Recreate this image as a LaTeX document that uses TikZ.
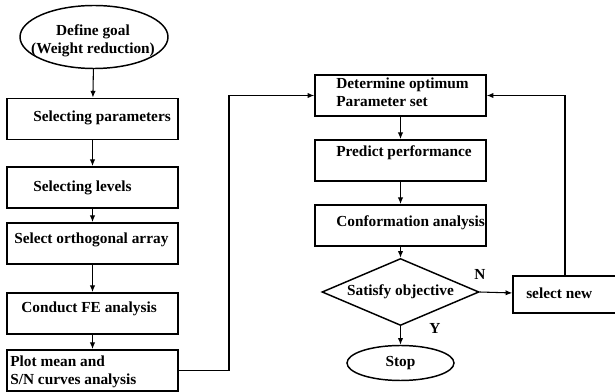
\documentclass[tikz,border=0pt]{standalone}
\usepackage{fontspec}
\setmainfont{Liberation Serif}
\usetikzlibrary{arrows.meta,shapes.geometric}
\tikzset{
    box/.style={draw, line width=1.1pt, minimum width=128.25pt,
                minimum height=31pt, inner sep=0pt},
    txt/.style={font=\bfseries\fontsize{11.5}{13.5}\selectfont,
                inner sep=0pt, anchor=west, align=left},
    term/.style={ellipse, draw, line width=1.1pt, inner sep=0pt},
    flow/.style={-{Latex[length=5pt,width=4pt]}, line width=0.8pt},
    link/.style={line width=0.8pt},
    choice/.style={diamond, draw, line width=1.1pt, inner sep=0pt,
                   aspect=2.34, minimum width=117.75pt, minimum height=50.25pt,
                   font=\bfseries\fontsize{11.5}{13.5}\selectfont},
}

\begin{document}
\begin{tikzpicture}[x=0.75pt,y=-0.75pt]
    \useasboundingbox (0,0) rectangle (615,392);

    % left column
    \node[term, minimum width=111pt, minimum height=47.25pt] (goal) at (94,37) {};
    \node[txt, anchor=center, align=center] (goal-t) at (93,41) {Define goal\\(Weight reduction)};
    \node[box] (params) at (92.5,119) {};
    \node[txt] (params-t) at (33,118) {Selecting parameters};
    \node[box] (levels) at (92.5,187.5) {};
    \node[txt] (levels-t) at (33,188) {Selecting levels};
    \node[box] (array) at (92.5,243.5) {};
    \node[txt] (array-t) at (14,240) {Select orthogonal array};
    \node[box] (fea) at (92.5,313.5) {};
    \node[txt] (fea-t) at (21,309) {Conduct FE analysis};
    \node[box] (plot) at (92.5,370.5) {};
    \node[txt] (plot-t) at (10,372) {Plot mean and\\S/N curves analysis};

    \draw[flow] (goal) -- (params);
    \draw[flow] (params) -- (levels);
    \draw[flow] (levels) -- (array);
    \draw[flow] (array) -- (fea);
    \draw[flow] (fea) -- (plot);

    % right column
    \node[box] (optimum) at (400.5,95.5) {};
    \node[txt] (optimum-t) at (336,92) {Determine optimum\\Parameter set};
    \node[box] (predict) at (400.5,160.5) {};
    \node[txt] (predict-t) at (336,153) {Predict performance};
    \node[box] (confirm) at (400.5,225.5) {};
    \node[txt] (confirm-t) at (336,223) {Conformation analysis};
    \node[choice] (satisfy) at (400.5,292) {Satisfy objective};
    \node[term, minimum width=80.25pt, minimum height=26.25pt,
          font=\bfseries\fontsize{11.5}{13.5}\selectfont] (stop) at (400.5,363) {Stop};
    \node[box, minimum width=78pt, minimum height=27.75pt] (selnew) at (565,294.5) {};
    \node[txt] (selnew-t) at (526,293) {select new};
    \node[txt, anchor=center] (no) at (480,274) {N};
    \node[txt, anchor=center] (yes) at (435,328) {Y};

    \coordinate (route) at (229,95.5);
    \draw[flow] (plot.east) -| (route) -- (optimum.west);
    \draw[flow] (optimum) -- (predict);
    \draw[flow] (predict) -- (confirm);
    \draw[flow] (confirm) -- (satisfy);
    \draw[flow] (satisfy) -- (stop);
    \draw[flow] (satisfy.east) -- (selnew);
    \draw[flow] (selnew.north) |- (optimum.east);

\end{tikzpicture}
\end{document}
